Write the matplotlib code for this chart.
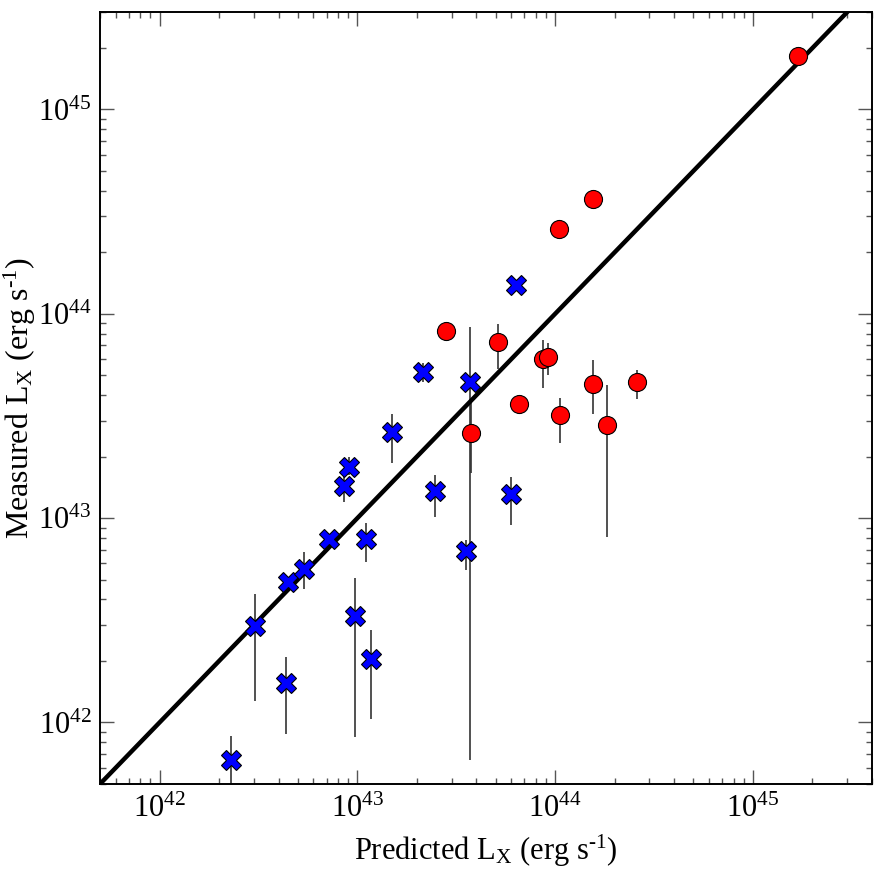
import numpy as np
import matplotlib
matplotlib.use('Agg')
import matplotlib.pyplot as plt

plt.rcParams['font.family'] = ['Liberation Serif', 'DejaVu Serif']
plt.rcParams['mathtext.fontset'] = 'custom'
plt.rcParams['mathtext.rm'] = 'Liberation Serif'
plt.rcParams['mathtext.it'] = 'Liberation Serif:italic'

## blue crosses (predicted, measured, measured err up/low)
blue_pred = [2.30e42, 3.04e42, 4.37e42, 4.45e42, 5.36e42, 7.16e42, 8.6e42, 9.1e42, 9.73e42,
             1.10e43, 1.17e43, 1.49e43, 2.14e43, 2.47e43, 3.54e43, 3.72e43, 6.01e43, 6.35e43]
blue_meas = [6.57e41, 2.98e42, 1.56e42, 4.89e42, 5.62e42, 7.87e42, 1.44e43, 1.78e43, 3.32e42,
             7.92e42, 2.04e42, 2.64e43, 5.18e43, 1.36e43, 6.90e42, 4.64e43, 1.31e43, 1.39e44]
blue_hi = [8.6e41, 4.26e42, 2.10e42, 4.89e42, 6.85e42, 7.87e42, 1.68e43, 1.99e43, 5.08e42,
           9.44e42, 2.84e42, 3.23e43, 5.73e43, 1.63e43, 7.82e42, 8.61e43, 1.59e43, 1.39e44]
blue_lo = [4.4e41, 1.28e42, 8.8e41, 4.89e42, 4.49e42, 7.87e42, 1.20e43, 1.63e43, 8.49e41,
           6.12e42, 1.04e42, 1.87e43, 4.65e43, 1.01e43, 5.57e42, 6.52e41, 9.25e42, 1.39e44]

## red circles
red_pred = [2.81e43, 5.15e43, 6.58e43, 8.73e43, 9.25e43, 1.05e44, 1.06e44, 1.55e44, 1.56e44,
            1.82e44, 2.58e44, 3.75e43, 1.69e45]
red_meas = [8.20e43, 7.28e43, 3.64e43, 6.04e43, 6.15e43, 2.61e44, 3.21e43, 3.63e44, 4.53e43,
            2.87e43, 4.64e43, 2.62e43, 1.82e45]
red_hi = [9.12e43, 8.89e43, 3.64e43, 7.41e43, 7.18e43, 2.61e44, 3.87e43, 3.63e44, 5.93e43,
          4.48e43, 5.30e43, 3.71e43, 1.82e45]
red_lo = [7.48e43, 5.40e43, 3.64e43, 4.32e43, 5.00e43, 2.61e44, 2.32e43, 3.63e44, 3.23e43,
          8.11e42, 3.81e43, 1.66e43, 1.82e45]

xlim = (5e41, 4e45)
ylim = (5e41, 3e45)

fig = plt.figure(figsize=(8.84, 8.86), dpi=100)
ax = fig.add_axes([100/884, 102/886, 772/884, 772/886])

ax.vlines(blue_pred, blue_lo, blue_hi, color='#333333', lw=1.2, zorder=1)
ax.vlines(red_pred, red_lo, red_hi, color='#333333', lw=1.2, zorder=1)

ax.plot(xlim, xlim, color='black', lw=3.2, zorder=2)

ax.plot(red_pred, red_meas, 'o', ms=13, mfc='red', mec='black', mew=0.8, ls='none', zorder=3)
ax.plot(blue_pred, blue_meas, 'X', ms=14.5, mfc='blue', mec='black', mew=0.8, ls='none', zorder=3)

ax.set_xscale('log')
ax.set_yscale('log')
ax.set_xlim(xlim)
ax.set_ylim(ylim)

ax.tick_params(which='both', direction='in', top=True, right=True, color='#555555', labelsize=22)
ax.tick_params(which='major', length=10, width=1.0, pad=8)
ax.tick_params(axis='y', which='major', pad=6)
ax.tick_params(which='minor', length=4.5, width=1.0)
for s in ax.spines.values():
    s.set_linewidth(1.4)

ax.set_xlabel('Predicted L$_\\mathregular{X}$ (erg s$^{\\text{-}1}$)', fontsize=22, labelpad=6)
ax.set_ylabel('Measured L$_\\mathregular{X}$ (erg s$^{\\text{-}1}$)', fontsize=23)
ax.yaxis.set_label_coords(-0.080, 0.5)

fig.savefig('out.png', dpi=100)
